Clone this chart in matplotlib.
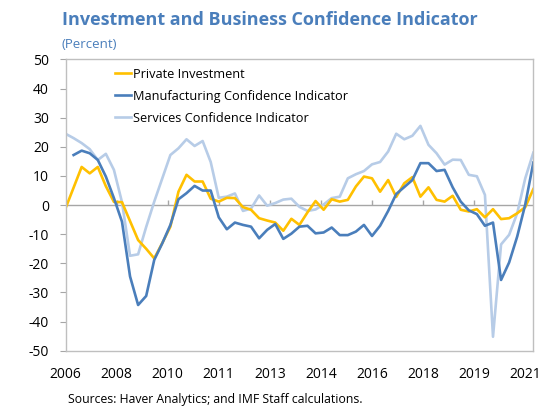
import numpy as np
import matplotlib.pyplot as plt

# quarterly data
tick_labels = ["2006", "2008", "2010", "2011", "2013", "2014", "2016", "2018", "2019", "2021"]

private_investment = [
    -1.1, 6.0, 13.1, 10.9, 13.1, 6.5, 1.1, 1.0, -5.5, -12.0,
    -15.0, -18.3, -13.0, -7.4, 4.6, 10.4, 8.1, 8.1, 2.2, 1.2,
    2.5, 2.4, -0.7, -1.6, -4.5, -5.3, -6.0, -8.8, -4.7, -6.8,
    -2.5, 1.4, -1.6, 2.0, 1.2, 1.8, 6.4, 9.8, 9.2, 4.6,
    8.6, 2.8, 7.5, 9.6, 2.9, 6.1, 1.8, 1.2, 3.2, -1.6,
    -2.2, -1.4, -4.2, -1.4, -4.8, -4.5, -2.8, -0.7, 5.5,
]

manufacturing = [
    np.nan, 17.2, 18.7, 17.8, 15.5, 9.8, 2.4, -5.7, -24.5, -34.3,
    -31.2, -18.8, -13.1, -6.8, 2.0, 4.1, 6.6, 5.0, 5.0, -4.2,
    -8.3, -6.0, -6.8, -7.4, -11.4, -8.5, -6.5, -11.6, -9.8, -7.4,
    -7.1, -9.7, -9.4, -7.7, -10.3, -10.3, -9.1, -6.8, -10.6, -7.1,
    -2.0, 3.8, 6.2, 8.6, 14.4, 14.4, 11.7, 12.1, 6.1, 1.2,
    -1.8, -3.1, -7.1, -6.0, -25.7, -19.7, -10.8, 0.2, 14.6,
]

services = [
    24.5, 23.0, 21.3, 19.2, 15.5, 17.6, 12.1, 1.0, -17.4, -16.9,
    -7.5, 1.2, 9.2, 17.2, 19.5, 22.6, 20.3, 22.0, 14.8, 2.5,
    2.9, 4.0, -2.0, -1.2, 3.3, -0.2, 0.7, 1.9, 2.2, -0.6,
    -2.0, -1.5, 0.2, 2.4, 2.9, 9.2, 10.6, 11.7, 14.0, 14.8,
    18.4, 24.5, 22.6, 23.8, 27.2, 20.7, 17.8, 13.9, 15.6, 15.5,
    10.4, 9.9, 3.5, -45.2, -13.5, -10.2, -2.8, 9.2, 18.0,
]

plt.rcParams['font.family'] = ['Open Sans', 'DejaVu Sans']
plt.rcParams['axes.unicode_minus'] = False

fig = plt.figure(figsize=(5.42, 4.08), dpi=100)
ax = fig.add_axes([0.1209, 0.1404, 0.8631, 0.7138])

x = np.arange(len(services))
ticks = np.linspace(0, 57, len(tick_labels))

l3, = ax.plot(x, services, color='#B7CCE7', lw=1.9, label='Services Confidence Indicator')
l1, = ax.plot(x, private_investment, color='#FFC000', lw=1.9, label='Private Investment')
l2, = ax.plot(x, manufacturing, color='#4A7EBB', lw=1.9, label='Manufacturing Confidence Indicator')

# zero line with small tick marks
ax.axhline(0, color='#A6A6A6', lw=1.0, zorder=1)
ax.vlines(ticks[1:], 0, 1.6, color='#A6A6A6', lw=1.0, zorder=1)

ax.set_xlim(0, 58)
ax.set_ylim(-50, 50)
ax.set_yticks(np.arange(-50, 51, 10))
ax.set_xticks(ticks)
ax.set_xticklabels(tick_labels)
ax.tick_params(axis='x', length=0, pad=12, labelsize=10)
ax.tick_params(axis='y', length=4, color='#A6A6A6', pad=8, labelsize=10)

for s in ax.spines.values():
    s.set_color('#BFBFBF')
    s.set_linewidth(1.0)

ax.legend(handles=[l1, l2, l3], loc='upper left', bbox_to_anchor=(0.087, 1.0),
          frameon=False, fontsize=9.2, handlelength=1.3, handletextpad=0.15,
          labelspacing=0.7, borderaxespad=0.25)

fig.text(62 / 542, 1 - 20 / 408, 'Investment and Business Confidence Indicator',
         color='#4A7EBB', fontsize=13, fontweight='bold', va='center')
fig.text(62 / 542, 1 - 44 / 408, '(Percent)', color='#4A7EBB', fontsize=9.5, va='center')
fig.text(68 / 542, 1 - 400 / 408, 'Sources: Haver Analytics; and IMF Staff calculations.',
         fontsize=8.8, va='center')

fig.savefig('out.png', dpi=100)
